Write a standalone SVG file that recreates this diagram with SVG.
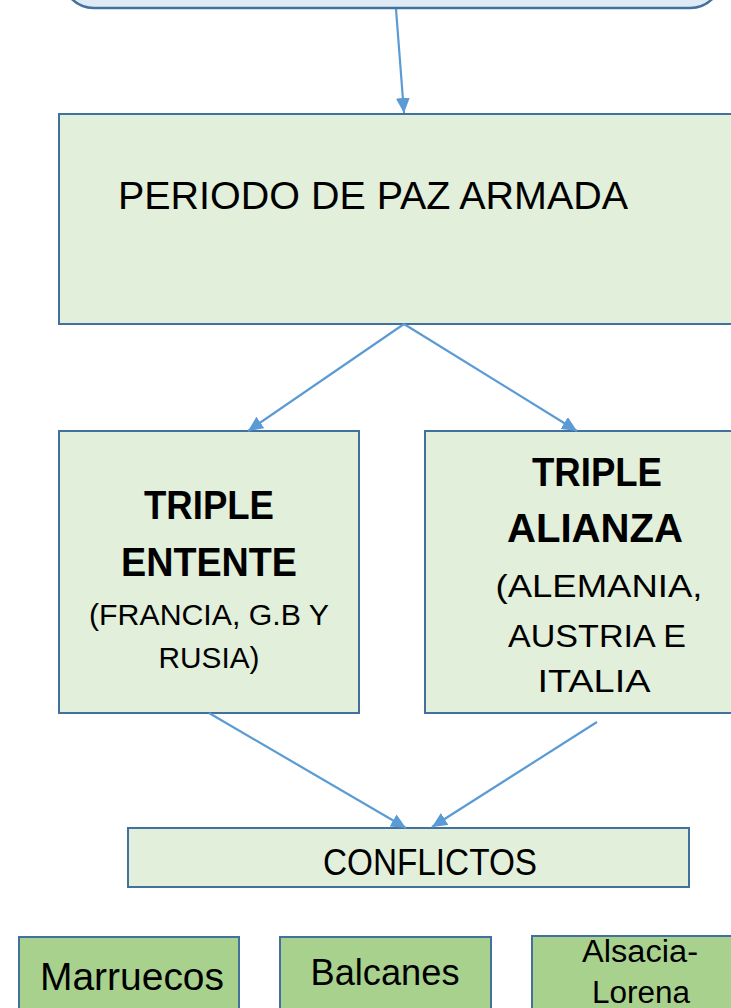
<svg xmlns="http://www.w3.org/2000/svg" width="731" height="1008" viewBox="0 0 731 1008">
<style>
.box{fill:#E2EFDA;stroke:#41719C;stroke-width:2}
.top{fill:#DEEBF7;stroke:#41719C;stroke-width:2.5}
.leaf{fill:#A9D18E;stroke:#41719C;stroke-width:2}
.conn{stroke:#5B9BD5;stroke-width:2.2;fill:none}
text{font-family:"Liberation Sans",Arial,sans-serif;fill:#000;text-anchor:middle}
.b{font-weight:bold}
</style>
<defs>
<marker id="ah" markerUnits="userSpaceOnUse" markerWidth="16" markerHeight="14" refX="15" refY="7" orient="auto"><path d="M0,0 L15,7 L0,14 z" fill="#5B9BD5"/></marker>
</defs>
<g id="top-node"><rect class="top" x="62" y="-60" width="660" height="68" rx="32" ry="32"/></g>
<g id="paz-armada"><rect class="box" x="59" y="114" width="700" height="210"/><text x="373" y="209" font-size="39" textLength="510" lengthAdjust="spacingAndGlyphs">PERIODO DE PAZ ARMADA</text></g>
<g id="triple-entente"><rect class="box" x="59" y="431" width="300" height="282"/>
<text class="b" x="209" y="519" font-size="41" textLength="130" lengthAdjust="spacingAndGlyphs">TRIPLE</text>
<text class="b" x="209" y="576" font-size="41" textLength="176" lengthAdjust="spacingAndGlyphs">ENTENTE</text>
<text x="209" y="625" font-size="29" textLength="240" lengthAdjust="spacingAndGlyphs">(FRANCIA, G.B Y</text>
<text x="209" y="668" font-size="29" textLength="101" lengthAdjust="spacingAndGlyphs">RUSIA)</text></g>
<g id="triple-alianza"><rect class="box" x="425" y="431" width="340" height="282"/>
<text class="b" x="597" y="486" font-size="41" textLength="130" lengthAdjust="spacingAndGlyphs">TRIPLE</text>
<text class="b" x="595" y="542" font-size="41" textLength="176" lengthAdjust="spacingAndGlyphs">ALIANZA</text>
<text x="599" y="597" font-size="31" textLength="207" lengthAdjust="spacingAndGlyphs">(ALEMANIA,</text>
<text x="597" y="647" font-size="31" textLength="178" lengthAdjust="spacingAndGlyphs">AUSTRIA E</text>
<text x="594" y="692" font-size="31" textLength="113" lengthAdjust="spacingAndGlyphs">ITALIA</text></g>
<g id="conflictos"><rect class="box" x="128" y="828" width="561" height="59"/><text x="430" y="875" font-size="36" textLength="214" lengthAdjust="spacingAndGlyphs">CONFLICTOS</text></g>
<g id="marruecos"><rect class="leaf" x="19" y="937" width="220" height="100"/><text x="132" y="990" font-size="38" textLength="184" lengthAdjust="spacingAndGlyphs">Marruecos</text></g>
<g id="balcanes"><rect class="leaf" x="280" y="937" width="211" height="100"/><text x="385" y="985" font-size="36" textLength="149" lengthAdjust="spacingAndGlyphs">Balcanes</text></g>
<g id="alsacia-lorena"><rect class="leaf" x="532" y="936" width="230" height="100"/><text x="640" y="962" font-size="31" textLength="116" lengthAdjust="spacingAndGlyphs">Alsacia-</text><text x="641" y="1003" font-size="31" textLength="98" lengthAdjust="spacingAndGlyphs">Lorena</text></g>
<g id="connectors">
<line class="conn" x1="396" y1="9" x2="404" y2="113" marker-end="url(#ah)"/>
<line class="conn" x1="404" y1="324" x2="248" y2="431" marker-end="url(#ah)"/>
<line class="conn" x1="404" y1="324" x2="577" y2="431" marker-end="url(#ah)"/>
<line class="conn" x1="209" y1="713" x2="406" y2="828" marker-end="url(#ah)"/>
<line class="conn" x1="597" y1="722" x2="432" y2="827" marker-end="url(#ah)"/>
</g>
</svg>
